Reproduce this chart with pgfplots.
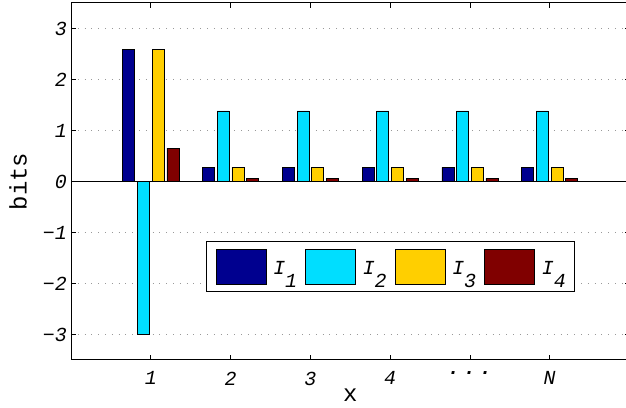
\documentclass[border=0pt]{standalone}
\usepackage{fontspec}
\setmainfont{Liberation Mono}
\usepackage{pgfplots}
\pgfplotsset{compat=1.18}

\definecolor{cI}{rgb}{0,0,0.56}
\definecolor{cII}{rgb}{0,0.87,1}
\definecolor{cIII}{rgb}{1,0.81,0}
\definecolor{cIV}{rgb}{0.5,0,0}

\newcommand{\leg}[1]{I\raisebox{-13bp}{#1}}
\newcommand{\dts}{{\bfseries.\kern4bp.\kern4bp.}}

\begin{document}
\begin{tikzpicture}
\begin{axis}[
    width=558.5bp, height=357bp, scale only axis,
    xmin=0, xmax=7, ymin=-3.5, ymax=3.5,
    ybar=2.7bp, bar width=12bp,
    legend image code/.code={\draw[#1, draw=black, line width=0.6bp] (0bp,-15bp) rectangle (50bp,20bp);},
    xtick={1,2,3,4,5,6}, xticklabels={1,2,3,4,\dts,N},
    ytick={-3,-2,-1,0,1,2,3}, yticklabels={−3,−2,−1,0,1,2,3},
    tick pos=both, tick align=inside, major tick length=5bp,
    tick style={black, line width=0.8bp},
    axis line style={black, line width=1bp},
    ymajorgrids,
    major grid style={gray!80, line width=0.8bp, dash pattern=on 0.8bp off 6bp},
    extra y ticks={0}, extra y tick labels={},
    extra y tick style={major tick length=0pt, major grid style={black, solid, line width=1bp}},
    tick label style={font=\fontsize{20}{20}\selectfont\itshape, inner sep=0pt},
    yticklabel style={anchor=east, xshift=-4bp},
    xticklabel style={anchor=north, yshift=-11.5bp},
    label style={font=\fontsize{24}{24}\selectfont, inner sep=0pt},
    xlabel={x}, ylabel={bits},
    xlabel style={at={(rel axis cs:0.5,0)}, anchor=center, yshift=-35bp},
    ylabel style={at={(rel axis cs:0,0.5)}, anchor=center, yshift=53bp},
    legend style={at={(0.242,0.333)}, anchor=north west, draw=black, line width=1bp,
        fill=white, font=\fontsize{20}{20}\selectfont\itshape,
        nodes={inner sep=0pt},
        inner xsep=9bp, inner ysep=7bp,
        /tikz/every odd column/.append style={column sep=7bp},
        /tikz/every even column/.append style={column sep=8bp}},
    legend columns=4,
]
\addplot[fill=cI, draw=black, line width=0.6bp] coordinates {(1,2.585) (2,0.275) (3,0.275) (4,0.275) (5,0.275) (6,0.275)};
\addlegendentry{\leg{1}}
\addplot[fill=cII, draw=black, line width=0.6bp] coordinates {(1,-3) (2,1.386) (3,1.386) (4,1.386) (5,1.386) (6,1.386)};
\addlegendentry{\leg{2}}
\addplot[fill=cIII, draw=black, line width=0.6bp] coordinates {(1,2.585) (2,0.275) (3,0.275) (4,0.275) (5,0.275) (6,0.275)};
\addlegendentry{\leg{3}}
\addplot[fill=cIV, draw=black, line width=0.6bp] coordinates {(1,0.655) (2,0.06) (3,0.06) (4,0.06) (5,0.06) (6,0.06)};
\addlegendentry{\leg{4}}
\end{axis}
\pgfresetboundingbox
\path[use as bounding box] ([xshift=-71bp,yshift=-48bp]current axis.south west) rectangle ([xshift=-3.5bp,yshift=3bp]current axis.north east);
\end{tikzpicture}
\end{document}
